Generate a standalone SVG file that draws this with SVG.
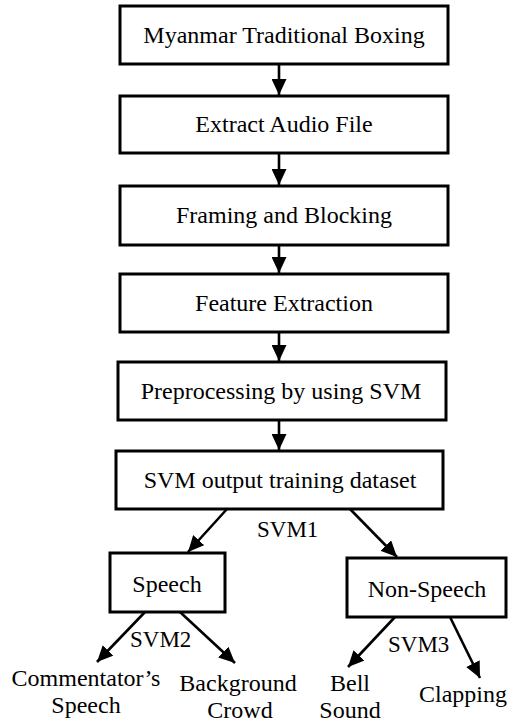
<svg xmlns="http://www.w3.org/2000/svg" width="508" height="722" viewBox="0 0 508 722">
  <defs>
    <style>
      .box { fill: #fff; stroke: #000; stroke-width: 3; }
      text { font-family: "Liberation Serif", "Times New Roman", Times, Tinos, "Noto Serif", "DejaVu Serif", FreeSerif, serif; fill: #000; }
      .lbl { font-size: 24px; text-anchor: middle; }
      .tag { font-size: 23px; }
      .edge { stroke: #000; stroke-width: 2.6; fill: none; marker-end: url(#head); }
    </style>
    <marker id="head" viewBox="0 0 16 15" refX="16" refY="7.5" markerWidth="16" markerHeight="15" markerUnits="userSpaceOnUse" orient="auto">
      <path d="M0,0 L16,7.5 L0,15 Z" fill="#000"/>
    </marker>
  </defs>
  <rect width="508" height="722" fill="#fff"/>

  <!-- connectors and their SVM labels -->
  <g id="connectors">
    <line class="edge" x1="279" y1="64" x2="279" y2="95"/>
    <line class="edge" x1="279" y1="153" x2="279" y2="185"/>
    <line class="edge" x1="279" y1="245" x2="279" y2="273"/>
    <line class="edge" x1="279" y1="332" x2="279" y2="361"/>
    <line class="edge" x1="279" y1="420" x2="279" y2="450"/>
    <line class="edge" x1="227" y1="509" x2="188" y2="552"/>
    <line class="edge" x1="350" y1="509" x2="397" y2="557"/>
    <line class="edge" x1="145" y1="612" x2="97" y2="662"/>
    <line class="edge" x1="180" y1="612" x2="235" y2="663"/>
    <line class="edge" x1="395" y1="617" x2="348" y2="667"/>
    <line class="edge" x1="450" y1="617" x2="480" y2="678"/>
    <text class="tag" x="257" y="537" font-family="Liberation Serif">SVM1</text>
    <text class="tag" x="130" y="647" font-family="Liberation Serif">SVM2</text>
    <text class="tag" x="388" y="652" font-family="Liberation Serif">SVM3</text>
  </g>

  <g id="n1">
    <rect class="box" x="120" y="6" width="328" height="58"/>
    <text class="lbl" x="284" y="43">Myanmar Traditional Boxing</text>
  </g>
  <g id="n2">
    <rect class="box" x="120" y="96" width="328" height="57"/>
    <text class="lbl" x="284" y="132">Extract Audio File</text>
  </g>
  <g id="n3">
    <rect class="box" x="120" y="186" width="328" height="59"/>
    <text class="lbl" x="284" y="223">Framing and Blocking</text>
  </g>
  <g id="n4">
    <rect class="box" x="120" y="274" width="328" height="58"/>
    <text class="lbl" x="284" y="311">Feature Extraction</text>
  </g>
  <g id="n5">
    <rect class="box" x="118" y="362" width="328" height="58"/>
    <text class="lbl" x="281" y="399">Preprocessing by using SVM</text>
  </g>
  <g id="n6">
    <rect class="box" x="116" y="451" width="327" height="58"/>
    <text class="lbl" x="280" y="488">SVM output training dataset</text>
  </g>
  <g id="n7">
    <rect class="box" x="110" y="553" width="115" height="59"/>
    <text class="lbl" x="167" y="592">Speech</text>
  </g>
  <g id="n8">
    <rect class="box" x="347" y="558" width="159" height="59"/>
    <text class="lbl" x="427" y="597">Non-Speech</text>
  </g>
  <g id="n9">
    <text class="lbl" x="86" y="686">Commentator’s</text>
    <text class="lbl" x="86" y="713">Speech</text>
  </g>
  <g id="n10">
    <text class="lbl" x="238" y="691">Background</text>
    <text class="lbl" x="240" y="718">Crowd</text>
  </g>
  <g id="n11">
    <text class="lbl" x="350" y="691">Bell</text>
    <text class="lbl" x="350" y="718">Sound</text>
  </g>
  <g id="n12">
    <text class="lbl" x="463" y="702">Clapping</text>
  </g>
</svg>
